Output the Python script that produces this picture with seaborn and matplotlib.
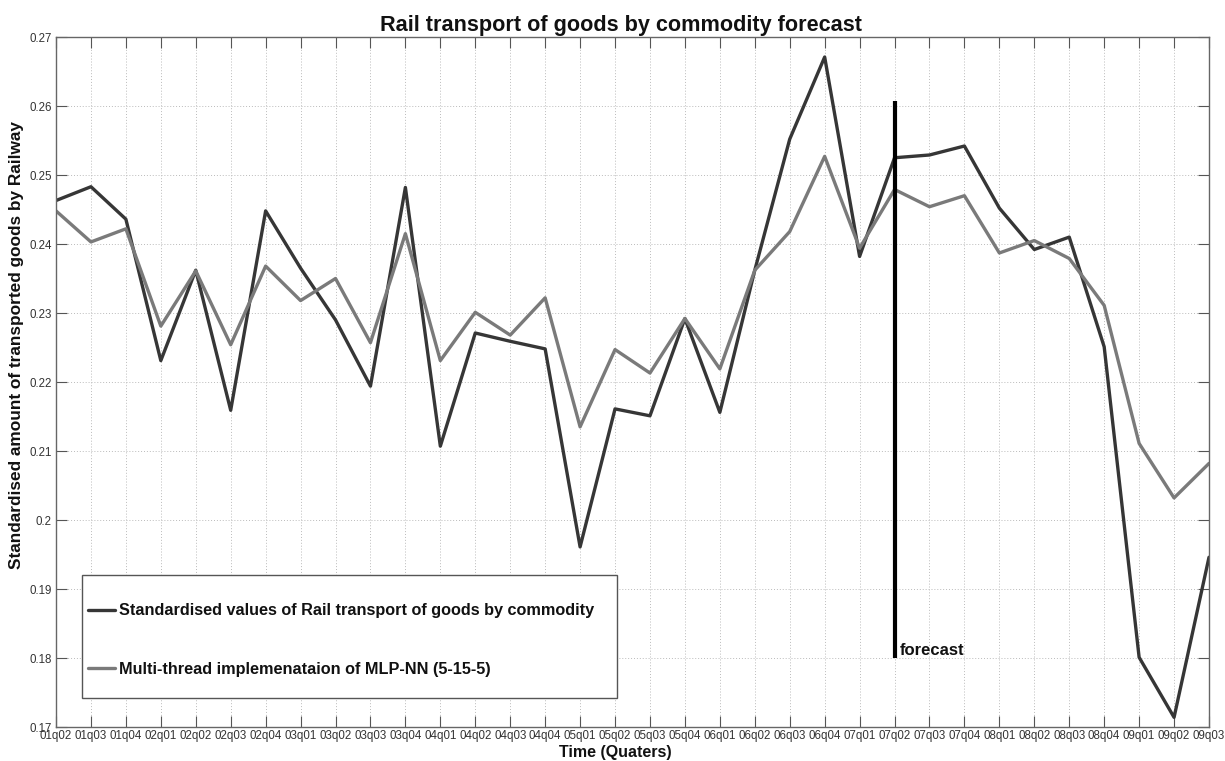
import matplotlib
matplotlib.use("Agg")
import matplotlib.pyplot as plt
from matplotlib.patches import Rectangle
from matplotlib.ticker import FuncFormatter
import numpy as np
import pandas as pd
import seaborn as sns

quarters = ["01q02", "01q03", "01q04", "02q01", "02q02", "02q03", "02q04", "03q01",
            "03q02", "03q03", "03q04", "04q01", "04q02", "04q03", "04q04", "05q01",
            "05q02", "05q03", "05q04", "06q01", "06q02", "06q03", "06q04", "07q01",
            "07q02", "07q03", "07q04", "08q01", "08q02", "08q03", "08q04", "09q01",
            "09q02", "09q03"]

actual = [0.2463, 0.2483, 0.2436, 0.2231, 0.2362, 0.2159, 0.2448, 0.2365,
          0.2290, 0.2194, 0.2482, 0.2107, 0.2271, 0.2259, 0.2248, 0.1961,
          0.2161, 0.2151, 0.2292, 0.2156, 0.2362, 0.2552, 0.2671, 0.2382,
          0.2525, 0.2529, 0.2542, 0.2452, 0.2392, 0.2410, 0.2251, 0.1801,
          0.1714, 0.1946]

mlp = [0.2448, 0.2403, 0.2422, 0.2281, 0.2361, 0.2254, 0.2368, 0.2318,
       0.2350, 0.2257, 0.2415, 0.2231, 0.2301, 0.2268, 0.2322, 0.2135,
       0.2247, 0.2213, 0.2292, 0.2219, 0.2362, 0.2418, 0.2527, 0.2394,
       0.2479, 0.2454, 0.2470, 0.2387, 0.2405, 0.2379, 0.2311, 0.2111,
       0.2032, 0.2082]

series_names = ["Standardised values of Rail transport of goods by commodity",
                "Multi-thread implemenataion of MLP-NN (5-15-5)"]
series_colors = ["#363636", "#7a7a7a"]

forecast_start = "07q02"
forecast_range = (0.18, 0.2607)

sns.set_theme(style="white")
plt.rcParams["font.family"] = ["Liberation Sans", "DejaVu Sans"]

idx = np.arange(len(quarters))
df = pd.DataFrame({
    "t": np.concatenate([idx, idx]),
    "value": actual + mlp,
    "series": [series_names[0]] * len(quarters) + [series_names[1]] * len(quarters),
})

W, H = 1225, 761
fig = plt.figure(figsize=(W / 100, H / 100), dpi=100)
ax = fig.add_axes([56 / W, 1 - 727 / H, (1209 - 56) / W, (727 - 37) / H])

sns.lineplot(data=df, x="t", y="value", hue="series", palette=series_colors,
             linewidth=2.4, ax=ax, legend=True)

# forecast marker
fx = quarters.index(forecast_start)
ax.vlines(fx, forecast_range[0], forecast_range[1], color="black", linewidth=3)
ax.text(fx + 0.14, forecast_range[0] + 0.0011, "forecast", fontsize=12,
        fontweight="bold", color="#111111", va="center", ha="left")

ax.set_xlim(0, len(quarters) - 1)
ax.set_ylim(0.17, 0.27)
ax.set_xticks(idx)
ax.set_xticklabels(quarters, fontsize=8.3, color="#333333")
ax.set_yticks(np.round(np.arange(0.17, 0.2701, 0.01), 2))
ax.yaxis.set_major_formatter(FuncFormatter(lambda v, p: f"{v:g}"))
ax.tick_params(axis="y", labelsize=8.3, labelcolor="#333333", pad=3)
ax.tick_params(axis="x", pad=2)
ax.tick_params(direction="in", length=8, width=0.8, color="#555555",
               top=True, right=True, bottom=True, left=True)

ax.grid(True, linestyle=(0, (1, 2)), color="#bbbbbb", linewidth=0.7)
for s in ax.spines.values():
    s.set_color("#666666")
    s.set_linewidth(1.0)

fig.text(621.5 / W, 1 - 25 / H, "Rail transport of goods by commodity forecast",
         fontsize=15.6, fontweight="bold", ha="center", va="center", color="#111111")
ax.set_xlabel("Time (Quaters)", fontsize=11.5, fontweight="bold", color="#111111",
              va="center")
ax.xaxis.set_label_coords((615.5 - 56) / 1153, (727 - 753) / 690)
ax.set_ylabel("Standardised amount of transported goods by Railway", fontsize=12.4,
              fontweight="bold", color="#111111", va="center")
ax.yaxis.set_label_coords((17 - 56) / 1153, (727 - 345) / 690)

# legend box drawn separately so its padding can be set per side
ax.add_patch(Rectangle((26 / 1153, 29 / 690), 535 / 1153, 123 / 690,
                       transform=ax.transAxes, facecolor="white",
                       edgecolor="#555555", linewidth=1.0, zorder=4))
leg = ax.legend(loc="center left", bbox_to_anchor=(32 / 1153, (727 - 640) / 690),
                fontsize=11.7, frameon=False, borderpad=0, labelspacing=2.65,
                handlelength=1.66, handletextpad=0.25, borderaxespad=0)
leg.set_zorder(5)
for t in leg.get_texts():
    t.set_fontweight("bold")
    t.set_color("#111111")

fig.savefig("out.png", dpi=100)
